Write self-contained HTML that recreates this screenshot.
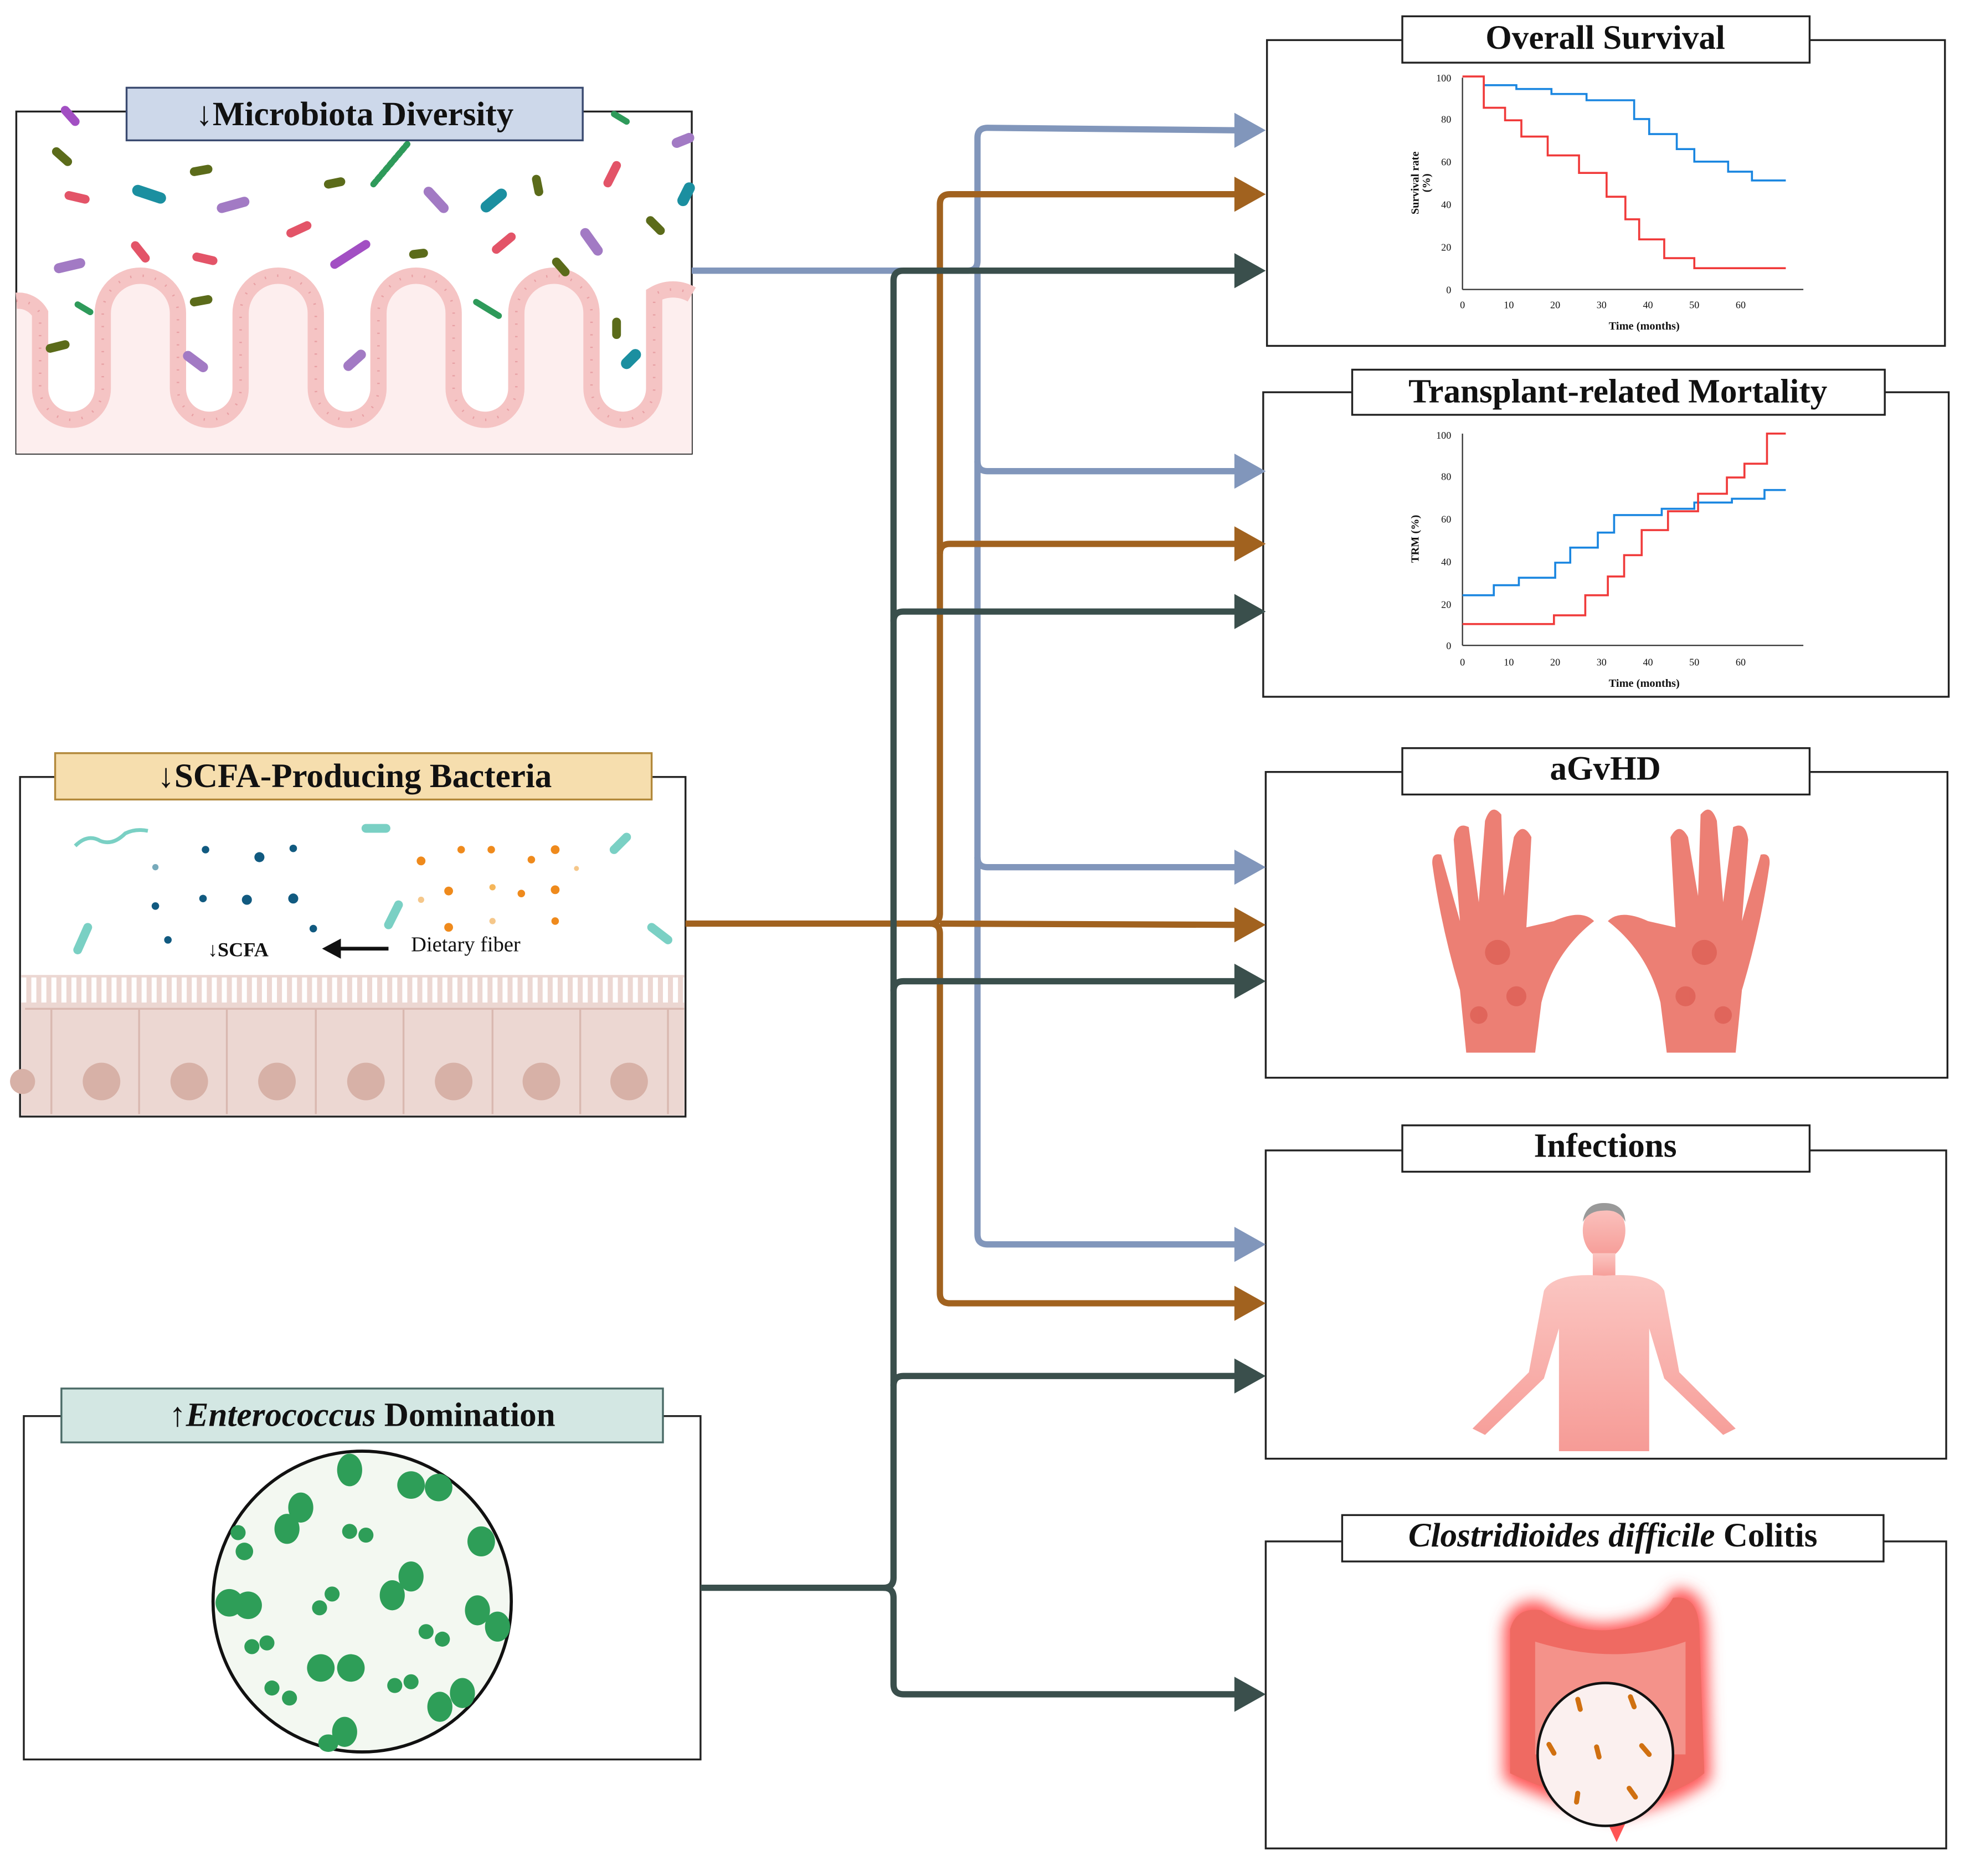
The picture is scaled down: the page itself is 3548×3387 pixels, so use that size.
<!DOCTYPE html>
<html><head><meta charset="utf-8"><style>
html,body{margin:0;padding:0;background:#fff;}
svg{display:block;}
text{font-family:"Liberation Serif",serif;}
</style></head><body>
<svg width="3548" height="3387" viewBox="0 0 1568 1497" preserveAspectRatio="none" xmlns="http://www.w3.org/2000/svg">
<defs>
<filter id="glow" x="-30%" y="-30%" width="160%" height="160%"><feGaussianBlur stdDeviation="6"/></filter>
<linearGradient id="body" x1="0" y1="0" x2="0" y2="1"><stop offset="0" stop-color="#fbc6c2"/><stop offset="1" stop-color="#f69b96"/></linearGradient>
</defs>

<!-- ===== Microbiota box ===== -->
<rect x="13" y="89" width="539" height="273" fill="#fff" stroke="#222" stroke-width="1.5"/>
<path d="M13,235 L13,362 L552,362 L552,235 A30,30 0 0 0 522,235 L522,310 A25,25 0 0 1 472,310 L472,250 A30,30 0 0 0 412,250 L412,310 A25,25 0 0 1 362,310 L362,250 A30,30 0 0 0 302,250 L302,310 A25,25 0 0 1 252,310 L252,250 A30,30 0 0 0 192,250 L192,310 A25,25 0 0 1 142,310 L142,250 A30,30 0 0 0 82,250 L82,310 A25,25 0 0 1 32,310 L32,250 A20,20 0 0 0 13,240 Z" fill="#fdeeee"/>
<path d="M13,240 A20,20 0 0 1 32,250 L32,310 A25,25 0 0 0 82,310 L82,250 A30,30 0 0 1 142,250 L142,310 A25,25 0 0 0 192,310 L192,250 A30,30 0 0 1 252,250 L252,310 A25,25 0 0 0 302,310 L302,250 A30,30 0 0 1 362,250 L362,310 A25,25 0 0 0 412,310 L412,250 A30,30 0 0 1 472,250 L472,310 A25,25 0 0 0 522,310 L522,235 A30,30 0 0 1 552,235" fill="none" stroke="#f5c4c4" stroke-width="13"/>
<path d="M13,240 A20,20 0 0 1 32,250 L32,310 A25,25 0 0 0 82,310 L82,250 A30,30 0 0 1 142,250 L142,310 A25,25 0 0 0 192,310 L192,250 A30,30 0 0 1 252,250 L252,310 A25,25 0 0 0 302,310 L302,250 A30,30 0 0 1 362,250 L362,310 A25,25 0 0 0 412,310 L412,250 A30,30 0 0 1 472,250 L472,310 A25,25 0 0 0 522,310 L522,235 A30,30 0 0 1 552,235" fill="none" stroke="#e8a0a4" stroke-width="2" stroke-dasharray="1,9"/>
<g stroke-linecap="round" stroke-width="7">
<line x1="52" y1="88" x2="60" y2="97" stroke="#a24fc3"/>
<line x1="45" y1="121" x2="54" y2="129" stroke="#5b6b1a"/>
<line x1="55" y1="156" x2="68" y2="159" stroke="#e35468"/>
<line x1="110" y1="152" x2="128" y2="158" stroke="#1b8fa0" stroke-width="9"/>
<line x1="155" y1="137" x2="166" y2="135" stroke="#5b6b1a"/>
<line x1="177" y1="166" x2="195" y2="161" stroke="#a27ac4" stroke-width="8"/>
<line x1="232" y1="186" x2="245" y2="180" stroke="#e35468"/>
<line x1="262" y1="147" x2="272" y2="145" stroke="#5b6b1a"/>
<line x1="298" y1="147" x2="325" y2="115" stroke="#2e9a5a" stroke-width="5" stroke-dasharray="3,2"/>
<line x1="342" y1="153" x2="354" y2="166" stroke="#a27ac4" stroke-width="8"/>
<line x1="388" y1="165" x2="400" y2="155" stroke="#1b8fa0" stroke-width="9"/>
<line x1="428" y1="143" x2="430" y2="153" stroke="#5b6b1a"/>
<line x1="485" y1="146" x2="492" y2="132" stroke="#e35468"/>
<line x1="490" y1="91" x2="500" y2="97" stroke="#2e9a5a" stroke-width="5"/>
<line x1="540" y1="114" x2="550" y2="110" stroke="#a27ac4" stroke-width="8"/>
<line x1="545" y1="160" x2="550" y2="150" stroke="#1b8fa0" stroke-width="9"/>
<line x1="519" y1="176" x2="527" y2="184" stroke="#5b6b1a"/>
<line x1="108" y1="196" x2="116" y2="206" stroke="#e35468"/>
<line x1="157" y1="205" x2="170" y2="208" stroke="#e35468"/>
<line x1="47" y1="214" x2="64" y2="210" stroke="#a27ac4" stroke-width="8"/>
<line x1="267" y1="211" x2="292" y2="195" stroke="#a24fc3"/>
<line x1="330" y1="203" x2="338" y2="202" stroke="#5b6b1a"/>
<line x1="396" y1="199" x2="408" y2="189" stroke="#e35468"/>
<line x1="444" y1="209" x2="451" y2="217" stroke="#5b6b1a"/>
<line x1="467" y1="186" x2="477" y2="200" stroke="#a27ac4" stroke-width="8"/>
<line x1="155" y1="241" x2="166" y2="239" stroke="#5b6b1a"/>
<line x1="62" y1="243" x2="72" y2="249" stroke="#2e9a5a" stroke-width="5"/>
<line x1="40" y1="278" x2="52" y2="275" stroke="#5b6b1a"/>
<line x1="150" y1="284" x2="162" y2="293" stroke="#a27ac4" stroke-width="8"/>
<line x1="278" y1="292" x2="288" y2="283" stroke="#a27ac4" stroke-width="8"/>
<line x1="380" y1="241" x2="398" y2="252" stroke="#2e9a5a" stroke-width="5"/>
<line x1="492" y1="257" x2="492" y2="267" stroke="#5b6b1a"/>
<line x1="500" y1="290" x2="507" y2="283" stroke="#1b8fa0" stroke-width="9"/>
</g>
<rect x="101" y="70" width="364" height="42" fill="#cdd8ea" stroke="#3a4a70" stroke-width="1.5"/>
<text x="283" y="100" text-anchor="middle" font-size="27" font-weight="bold" fill="#111">↓Microbiota Diversity</text>

<!-- ===== SCFA box ===== -->
<rect x="16" y="620" width="531" height="271" fill="#fff" stroke="#222" stroke-width="1.5"/>
<rect x="17" y="778" width="529" height="112" fill="#ecd7d2"/>
<g stroke="#d9b8b0" stroke-width="1.5">
<path d="M20,805 L546,805" />
<line x1="41" y1="805" x2="41" y2="889"/><line x1="111" y1="805" x2="111" y2="889"/><line x1="181" y1="805" x2="181" y2="889"/><line x1="252" y1="805" x2="252" y2="889"/><line x1="322" y1="805" x2="322" y2="889"/><line x1="393" y1="805" x2="393" y2="889"/><line x1="463" y1="805" x2="463" y2="889"/><line x1="533" y1="805" x2="533" y2="889"/>
</g>
<path d="M17,790 L546,790" stroke="#fff" stroke-width="20" stroke-dasharray="4,4"/>
<g fill="#d7b1a7"><circle cx="81" cy="863" r="15"/><circle cx="151" cy="863" r="15"/><circle cx="221" cy="863" r="15"/><circle cx="292" cy="863" r="15"/><circle cx="362" cy="863" r="15"/><circle cx="432" cy="863" r="15"/><circle cx="502" cy="863" r="15"/><circle cx="18" cy="863" r="10"/></g>
<g fill="#115a80"><circle cx="164" cy="678" r="3"/><circle cx="207" cy="684" r="4"/><circle cx="234" cy="677" r="3"/><circle cx="124" cy="692" r="2.5" fill="#7ab"/><circle cx="124" cy="723" r="3"/><circle cx="162" cy="717" r="3"/><circle cx="197" cy="718" r="4"/><circle cx="234" cy="717" r="4"/><circle cx="134" cy="750" r="3"/><circle cx="250" cy="741" r="3"/></g>
<g fill="#ef8a1c"><circle cx="336" cy="687" r="3.5"/><circle cx="368" cy="678" r="3"/><circle cx="392" cy="678" r="3"/><circle cx="424" cy="686" r="3"/><circle cx="443" cy="678" r="3.5"/><circle cx="358" cy="711" r="3.5"/><circle cx="393" cy="708" r="2.5" fill="#f5b65a"/><circle cx="416" cy="713" r="3"/><circle cx="443" cy="710" r="3.5"/><circle cx="336" cy="718" r="2.5" fill="#f5c78a"/><circle cx="358" cy="740" r="3.5"/><circle cx="393" cy="735" r="2.5" fill="#f5c78a"/><circle cx="443" cy="735" r="3"/><circle cx="460" cy="693" r="2" fill="#f5c78a"/></g>
<g stroke="#7ad0c4" stroke-linecap="round" stroke-width="7">
<line x1="62" y1="758" x2="70" y2="740"/><line x1="292" y1="661" x2="308" y2="661"/><line x1="490" y1="678" x2="500" y2="668"/><line x1="310" y1="738" x2="318" y2="722"/><line x1="520" y1="740" x2="533" y2="750"/>
</g>
<path d="M60,675 q10,-10 20,-4 q10,4 20,-6 q8,-4 18,-2" stroke="#7ad0c4" stroke-width="3" fill="none"/>
<text x="190" y="763" text-anchor="middle" font-size="16" font-weight="bold" fill="#111">↓SCFA</text>
<text x="328" y="759" font-size="17" fill="#111">Dietary fiber</text>
<line x1="310" y1="757" x2="270" y2="757" stroke="#111" stroke-width="3"/>
<polygon points="257,757 272,749 272,765" fill="#111"/>
<rect x="44" y="601" width="476" height="37" fill="#f6deae" stroke="#b2883a" stroke-width="1.5"/>
<text x="283" y="628" text-anchor="middle" font-size="27" font-weight="bold" fill="#111">↓SCFA-Producing Bacteria</text>

<!-- ===== Enterococcus box ===== -->
<rect x="19" y="1130" width="540" height="274" fill="#fff" stroke="#222" stroke-width="1.5"/>
<ellipse cx="289" cy="1278" rx="119" ry="120" fill="#f3f8f1" stroke="#111" stroke-width="2.5"/>
<g fill="#2e9e58">
<ellipse cx="279" cy="1173" rx="10" ry="13"/><circle cx="328" cy="1185" r="11"/><circle cx="350" cy="1187" r="11"/>
<ellipse cx="240" cy="1203" rx="10" ry="12"/><ellipse cx="229" cy="1220" rx="10" ry="12"/>
<circle cx="190" cy="1223" r="6"/><circle cx="195" cy="1238" r="7"/><circle cx="279" cy="1222" r="6"/><circle cx="292" cy="1225" r="6"/>
<ellipse cx="384" cy="1230" rx="11" ry="12"/><ellipse cx="328" cy="1258" rx="10" ry="12"/><ellipse cx="313" cy="1273" rx="10" ry="12"/>
<circle cx="265" cy="1272" r="6"/><circle cx="255" cy="1283" r="6"/><circle cx="183" cy="1279" r="11"/><circle cx="198" cy="1281" r="11"/>
<ellipse cx="381" cy="1285" rx="10" ry="12"/><ellipse cx="397" cy="1298" rx="10" ry="12"/><circle cx="340" cy="1302" r="6"/><circle cx="353" cy="1308" r="6"/>
<circle cx="201" cy="1314" r="6"/><circle cx="213" cy="1311" r="6"/><circle cx="256" cy="1331" r="11"/><circle cx="280" cy="1331" r="11"/>
<circle cx="315" cy="1345" r="6"/><circle cx="328" cy="1342" r="6"/><circle cx="217" cy="1347" r="6"/><circle cx="231" cy="1355" r="6"/>
<ellipse cx="351" cy="1362" rx="10" ry="12"/><ellipse cx="369" cy="1351" rx="10" ry="12"/><ellipse cx="275" cy="1382" rx="10" ry="12"/><ellipse cx="262" cy="1391" rx="8" ry="7"/>
</g>
<rect x="49" y="1108" width="480" height="43" fill="#d3e7e3" stroke="#4a6a66" stroke-width="1.5"/>
<text x="289" y="1138" text-anchor="middle" font-size="27" font-weight="bold" fill="#111">↑<tspan font-style="italic">Enterococcus</tspan> Domination</text>

<!-- ===== Right boxes ===== -->
<rect x="1011" y="32" width="541" height="244" fill="#fff" stroke="#222" stroke-width="1.5"/>
<rect x="1119" y="13" width="325" height="37" fill="#fff" stroke="#222" stroke-width="1.5"/>
<text x="1281" y="39" text-anchor="middle" font-size="27" font-weight="bold" fill="#111">Overall Survival</text>

<rect x="1008" y="313" width="547" height="243" fill="#fff" stroke="#222" stroke-width="1.5"/>
<rect x="1079" y="295" width="425" height="36" fill="#fff" stroke="#222" stroke-width="1.5"/>
<text x="1291" y="321" text-anchor="middle" font-size="27" font-weight="bold" fill="#111">Transplant-related Mortality</text>

<rect x="1010" y="616" width="544" height="244" fill="#fff" stroke="#222" stroke-width="1.5"/>
<rect x="1119" y="597" width="325" height="37" fill="#fff" stroke="#222" stroke-width="1.5"/>
<text x="1281" y="622" text-anchor="middle" font-size="27" font-weight="bold" fill="#111">aGvHD</text>

<rect x="1010" y="918" width="543" height="246" fill="#fff" stroke="#222" stroke-width="1.5"/>
<rect x="1119" y="898" width="325" height="37" fill="#fff" stroke="#222" stroke-width="1.5"/>
<text x="1281" y="923" text-anchor="middle" font-size="27" font-weight="bold" fill="#111">Infections</text>

<rect x="1010" y="1230" width="543" height="245" fill="#fff" stroke="#222" stroke-width="1.5"/>
<rect x="1071" y="1209" width="432" height="37" fill="#fff" stroke="#222" stroke-width="1.5"/>
<text x="1287" y="1234" text-anchor="middle" font-size="27" font-weight="bold" fill="#111"><tspan font-style="italic">Clostridioides difficile</tspan> Colitis</text>

<!-- OS chart -->
<g font-size="8" fill="#111" stroke="none">
<line x1="1167" y1="62" x2="1167" y2="231" stroke="#333" stroke-width="1"/>
<line x1="1167" y1="231" x2="1439" y2="231" stroke="#333" stroke-width="1"/>
<text x="1158" y="65" text-anchor="end">100</text><text x="1158" y="98" text-anchor="end">80</text><text x="1158" y="132" text-anchor="end">60</text><text x="1158" y="166" text-anchor="end">40</text><text x="1158" y="200" text-anchor="end">20</text><text x="1158" y="234" text-anchor="end">0</text>
<text x="1167" y="246" text-anchor="middle">0</text><text x="1204" y="246" text-anchor="middle">10</text><text x="1241" y="246" text-anchor="middle">20</text><text x="1278" y="246" text-anchor="middle">30</text><text x="1315" y="246" text-anchor="middle">40</text><text x="1352" y="246" text-anchor="middle">50</text><text x="1389" y="246" text-anchor="middle">60</text>
<text x="1312" y="263" text-anchor="middle" font-weight="bold" font-size="9">Time (months)</text>
<text transform="translate(1132,146) rotate(-90)" text-anchor="middle" font-weight="bold" font-size="9">Survival rate</text>
<text transform="translate(1141,146) rotate(-90)" text-anchor="middle" font-weight="bold" font-size="9">(%)</text>
</g>
<polyline fill="none" stroke="#1a86e0" stroke-width="1.6" points="1184,68 1210,68 1210,71 1238,71 1238,75 1266,75 1266,80 1304,80 1304,95 1316,95 1316,107 1338,107 1338,119 1352,119 1352,129 1379,129 1379,137 1398,137 1398,144 1425,144"/>
<polyline fill="none" stroke="#f03a3a" stroke-width="1.6" points="1167,61 1184,61 1184,86 1201,86 1201,96 1214,96 1214,109 1235,109 1235,124 1260,124 1260,138 1282,138 1282,157 1297,157 1297,175 1308,175 1308,191 1328,191 1328,206 1352,206 1352,214 1425,214"/>

<!-- TRM chart -->
<g font-size="8" fill="#111">
<line x1="1167" y1="346" x2="1167" y2="515" stroke="#333" stroke-width="1"/>
<line x1="1167" y1="515" x2="1439" y2="515" stroke="#333" stroke-width="1"/>
<text x="1158" y="350" text-anchor="end">100</text><text x="1158" y="383" text-anchor="end">80</text><text x="1158" y="417" text-anchor="end">60</text><text x="1158" y="451" text-anchor="end">40</text><text x="1158" y="485" text-anchor="end">20</text><text x="1158" y="518" text-anchor="end">0</text>
<text x="1167" y="531" text-anchor="middle">0</text><text x="1204" y="531" text-anchor="middle">10</text><text x="1241" y="531" text-anchor="middle">20</text><text x="1278" y="531" text-anchor="middle">30</text><text x="1315" y="531" text-anchor="middle">40</text><text x="1352" y="531" text-anchor="middle">50</text><text x="1389" y="531" text-anchor="middle">60</text>
<text x="1312" y="548" text-anchor="middle" font-weight="bold" font-size="9">Time (months)</text>
<text transform="translate(1132,430) rotate(-90)" text-anchor="middle" font-weight="bold" font-size="9">TRM (%)</text>
</g>
<polyline fill="none" stroke="#1a86e0" stroke-width="1.6" points="1167,475 1192,475 1192,467 1212,467 1212,461 1241,461 1241,449 1253,449 1253,437 1275,437 1275,425 1288,425 1288,411 1326,411 1326,406 1352,406 1352,401 1382,401 1382,398 1408,398 1408,391 1425,391"/>
<polyline fill="none" stroke="#f03a3a" stroke-width="1.6" points="1167,498 1240,498 1240,491 1265,491 1265,475 1283,475 1283,460 1296,460 1296,443 1310,443 1310,423 1331,423 1331,408 1355,408 1355,394 1378,394 1378,381 1392,381 1392,370 1410,370 1410,346 1425,346"/>

<!-- Hands -->
<g fill="#ec7f74">
<path d="M1170,840 L1165,790 Q1150,740 1143,690 Q1142,680 1150,682 L1165,735 L1160,670 Q1162,655 1172,660 L1180,720 L1185,655 Q1190,640 1198,650 L1200,715 L1208,668 Q1215,655 1222,668 L1218,740 L1240,735 Q1262,725 1272,735 Q1240,760 1230,800 L1225,840 Z"/>
<path d="M1385,840 L1390,790 Q1405,740 1412,690 Q1413,680 1405,682 L1390,735 L1395,670 Q1393,655 1383,660 L1375,720 L1370,655 Q1365,640 1357,650 L1355,715 L1347,668 Q1340,655 1333,668 L1337,740 L1315,735 Q1293,725 1283,735 Q1315,760 1325,800 L1330,840 Z"/>
</g>
<g fill="#d9554b" opacity="0.6"><circle cx="1195" cy="760" r="10"/><circle cx="1210" cy="795" r="8"/><circle cx="1180" cy="810" r="7"/><circle cx="1360" cy="760" r="10"/><circle cx="1345" cy="795" r="8"/><circle cx="1375" cy="810" r="7"/></g>

<!-- Person -->
<g fill="url(#body)">
<ellipse cx="1280" cy="982" rx="17" ry="22"/>
<rect x="1271" y="1000" width="18" height="20"/>
<path d="M1232,1030 Q1240,1015 1280,1018 Q1320,1015 1328,1030 L1340,1095 L1385,1140 L1375,1145 L1328,1100 L1316,1060 L1316,1158 L1244,1158 L1244,1060 L1232,1100 L1185,1145 L1175,1140 L1220,1095 Z"/>
</g>
<path d="M1263,975 Q1265,960 1280,960 Q1296,960 1297,975 Q1292,965 1280,966 Q1268,966 1263,975 Z" fill="#999"/>

<!-- Colon -->
<g filter="url(#glow)"><path d="M1200,1300 Q1205,1275 1230,1278 Q1260,1300 1290,1295 Q1325,1290 1335,1268 Q1360,1265 1362,1300 L1365,1420 Q1340,1440 1290,1450 Q1240,1440 1200,1420 Z" fill="#f55"/></g>
<path d="M1205,1300 Q1210,1282 1230,1285 Q1260,1305 1290,1300 Q1325,1295 1335,1275 Q1355,1272 1356,1300 L1360,1415 Q1340,1432 1290,1442 Q1240,1432 1205,1415 Z" fill="#ef6a62"/>
<path d="M1225,1310 Q1290,1330 1345,1310 L1345,1400 L1225,1400 Z" fill="#f4928a"/>
<path d="M1283,1455 L1290,1470 L1297,1455 Z" fill="#f55"/>
<ellipse cx="1281" cy="1400" rx="54" ry="57" fill="#fbf0ef" stroke="#111" stroke-width="2"/>
<g stroke="#d07010" stroke-width="4" stroke-linecap="round"><line x1="1259" y1="1356" x2="1261" y2="1364"/><line x1="1301" y1="1354" x2="1304" y2="1362"/><line x1="1236" y1="1392" x2="1240" y2="1399"/><line x1="1274" y1="1394" x2="1276" y2="1402"/><line x1="1310" y1="1393" x2="1316" y2="1400"/><line x1="1259" y1="1431" x2="1258" y2="1438"/><line x1="1300" y1="1427" x2="1305" y2="1434"/></g>

<!-- ===== Connectors ===== -->
<g fill="none" stroke-width="5" stroke-linejoin="round">
<path d="M552,216 L772,216 Q780,216 780,208 L780,110 Q780,102 788,102 L990,104" stroke="#8196bb"/>
<path d="M780,216 L780,985 Q780,993 788,993 L990,993" stroke="#8196bb"/>
<path d="M780,368 Q780,376 788,376 L990,376" stroke="#8196bb"/>
<path d="M780,684 Q780,692 788,692 L990,692" stroke="#8196bb"/>
<path d="M547,737 L742,737 Q750,737 750,729 L750,163 Q750,155 758,155 L990,155" stroke="#a1621f"/>
<path d="M742,737 Q750,737 750,745 L750,1032 Q750,1040 758,1040 L990,1040" stroke="#a1621f"/>
<path d="M750,442 Q750,434 758,434 L990,434" stroke="#a1621f"/>
<path d="M750,737 L990,738" stroke="#a1621f"/>
<path d="M559,1267 L705,1267 Q713,1267 713,1259 L713,224 Q713,216 721,216 L990,216" stroke="#3a4f4c"/>
<path d="M705,1267 Q713,1267 713,1275 L713,1344 Q713,1352 721,1352 L990,1352" stroke="#3a4f4c"/>
<path d="M713,496 Q713,488 721,488 L990,488" stroke="#3a4f4c"/>
<path d="M713,791 Q713,783 721,783 L990,783" stroke="#3a4f4c"/>
<path d="M713,1106 Q713,1098 721,1098 L990,1098" stroke="#3a4f4c"/>
</g>
<g>
<polygon points="985,90 1010,104 985,118" fill="#8196bb"/>
<polygon points="985,362 1010,376 985,390" fill="#8196bb"/>
<polygon points="985,678 1010,692 985,706" fill="#8196bb"/>
<polygon points="985,979 1010,993 985,1007" fill="#8196bb"/>
<polygon points="985,141 1010,155 985,169" fill="#a1621f"/>
<polygon points="985,420 1010,434 985,448" fill="#a1621f"/>
<polygon points="985,724 1010,738 985,752" fill="#a1621f"/>
<polygon points="985,1026 1010,1040 985,1054" fill="#a1621f"/>
<polygon points="985,202 1010,216 985,230" fill="#3a4f4c"/>
<polygon points="985,474 1010,488 985,502" fill="#3a4f4c"/>
<polygon points="985,769 1010,783 985,797" fill="#3a4f4c"/>
<polygon points="985,1084 1010,1098 985,1112" fill="#3a4f4c"/>
<polygon points="985,1338 1010,1352 985,1366" fill="#3a4f4c"/>
</g>
</svg>
</body></html>
